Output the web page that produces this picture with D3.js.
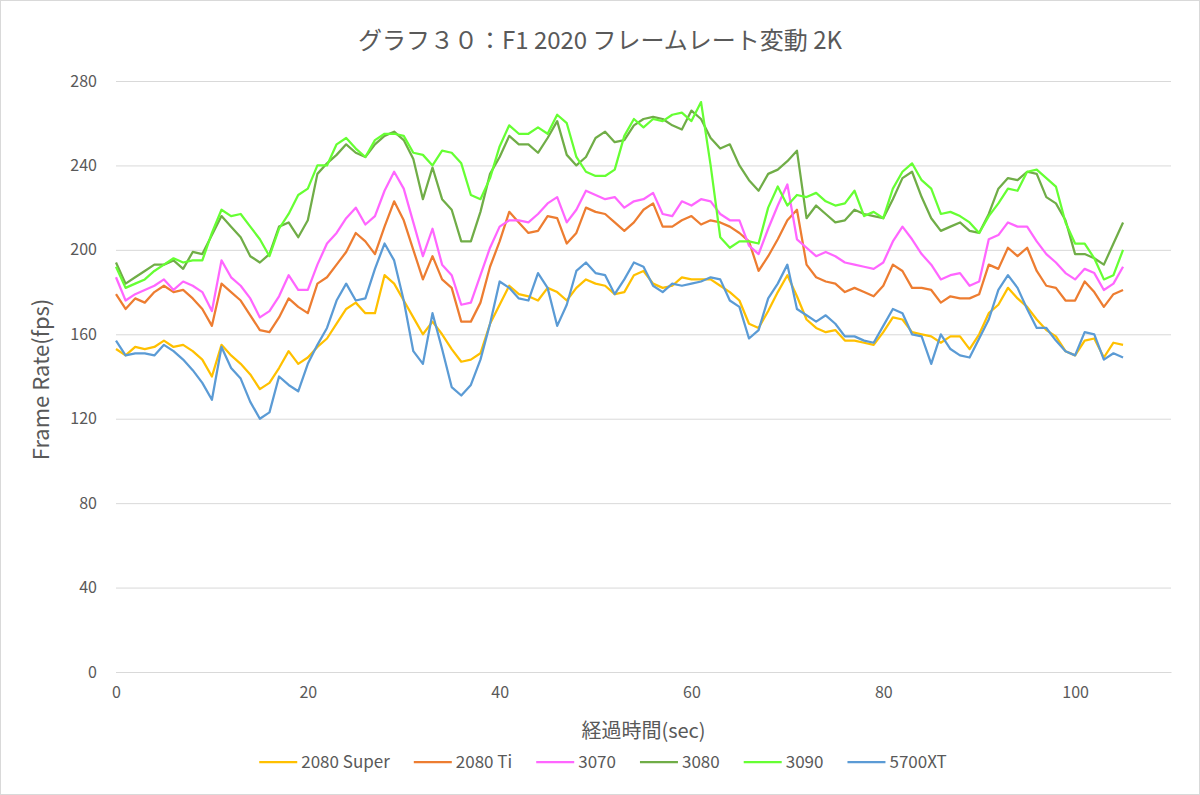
<!DOCTYPE html>
<html>
<head>
<meta charset="utf-8">
<script src="https://cdn.jsdelivr.net/npm/d3@7"></script>
<style>
  body { margin: 0; background: #fff; }
  svg { display: block; }
</style>
</head>
<body>
<svg id="chart"></svg>
<script>
// seconds 0..105, one sample per second
const secs = d3.range(0, 106);

const names = ["2080 Super", "2080 Ti", "3070", "3080", "3090", "5700XT"];
const colors = ["#ffc000", "#ed7d31", "#ff66ff", "#70ad47", "#66ff33", "#5b9bd5"];

const s2080super = [153,150,154,153,154,157,154,155,152,148,140,155,150,146,141,134,137,144,152,146,
  149,154,158,165,172,175,170,170,188,184,176,168,160,166,160,153,147,148,151,165,
  174,183,179,178,176,182,180,176,182,186,184,183,179,180,188,190,184,182,183,187,
  186,186,186,183,180,176,165,163,171,180,188,178,167,163,161,162,157,157,156,155,
  161,168,167,161,160,159,156,159,159,153,160,170,174,182,177,173,167,162,159,152,
  150,157,158,149,156,155];
const s2080ti = [179,172,177,175,180,183,180,181,177,172,164,184,180,176,169,162,161,168,177,173,
  170,184,187,193,199,208,204,198,211,223,214,200,186,197,186,182,166,166,175,192,
  204,218,213,208,209,216,215,203,208,220,218,217,213,209,213,219,222,211,211,214,
  216,212,214,213,211,208,204,190,197,205,214,219,193,187,185,184,180,182,180,178,
  183,193,190,182,182,181,175,178,177,177,179,193,191,201,197,201,190,183,182,176,
  176,185,180,173,179,181];
const s3070 = [187,176,179,181,183,186,181,185,183,180,171,195,187,183,177,168,171,178,188,181,
  181,193,203,208,215,220,212,216,228,237,229,213,197,210,193,188,174,175,188,201,
  211,214,214,213,217,222,225,213,219,228,226,224,225,220,223,224,227,217,216,223,
  221,224,223,217,214,214,202,198,210,221,231,205,201,197,199,197,194,193,192,191,
  194,204,211,205,198,193,186,188,189,183,185,205,207,213,211,211,204,198,194,189,
  186,191,189,181,184,192];
const s3080 = [194,184,187,190,193,193,195,191,199,198,207,216,211,206,197,194,198,211,213,206,
  214,236,241,245,250,246,244,250,254,256,252,243,224,239,224,219,204,204,218,236,
  244,254,250,250,246,253,261,245,240,244,253,256,251,252,259,262,263,262,259,257,
  266,262,253,248,250,240,233,228,236,238,242,247,215,221,217,213,214,219,217,216,
  215,224,234,237,225,215,209,211,213,209,208,217,229,234,233,237,236,225,222,214,
  198,198,196,193,203,213];
const s3090 = [192,182,184,186,190,193,196,194,195,195,208,219,216,217,211,205,197,210,217,226,
  229,240,240,250,253,248,244,252,255,255,254,246,245,240,247,246,241,226,224,234,
  249,259,255,255,258,255,264,260,244,237,235,235,238,254,262,258,262,261,264,265,
  261,270,240,206,201,204,204,203,220,230,221,226,225,227,223,221,222,228,216,218,
  215,229,237,241,233,229,217,218,216,213,208,216,222,229,228,237,238,234,230,213,
  203,203,196,186,188,200];
const s5700xt = [157,150,151,151,150,155,152,148,143,137,129,154,144,139,128,120,123,140,136,133,
  146,155,163,176,184,176,177,191,203,195,176,152,146,170,153,135,131,136,148,165,
  185,182,177,176,189,182,164,174,190,194,189,188,179,186,194,192,183,180,184,183,
  184,185,187,186,176,173,158,162,177,184,193,172,169,166,169,165,159,159,157,156,
  164,172,170,160,159,146,160,153,150,149,158,167,181,188,182,172,163,163,157,152,
  150,161,160,148,151,149];

const seriesValues = [s2080super, s2080ti, s3070, s3080, s3090, s5700xt];

const yTicks = [0, 40, 80, 120, 160, 200, 240, 280];
const xTicks = [0, 20, 40, 60, 80, 100];

const W = 1200, H = 795;
const font = "'Noto Sans CJK JP', 'Noto Sans', sans-serif";
const textColor = "#595959";

const svg = d3.select("#chart").attr("width", W).attr("height", H)
  .style("font-family", font);

svg.append("rect")
  .attr("x", 0.5).attr("y", 0.5)
  .attr("width", W - 1).attr("height", H - 1)
  .attr("fill", "#fff").attr("stroke", "#d9d9d9");

const x = d3.scaleLinear().domain([0, 110]).range([116, 1171]);
const y = d3.scaleLinear().domain([0, 280]).range([672, 81]);

// gridlines
svg.append("g")
  .attr("transform", `translate(${x(0)},0)`)
  .call(d3.axisLeft(y).tickValues(yTicks).tickSize(-(x(110) - x(0))).tickFormat(""))
  .call((g) => g.select(".domain").remove())
  .call((g) => g.selectAll("line").attr("stroke", "#d9d9d9").attr("stroke-width", 1));

// y tick labels
svg.append("g")
  .attr("transform", `translate(${x(0) - 11},0)`)
  .call(d3.axisLeft(y).tickValues(yTicks).tickSize(0).tickPadding(8))
  .call((g) => g.select(".domain").remove())
  .call((g) => g.selectAll("text")
    .attr("fill", textColor).style("font-size", "16px").style("font-family", font));

// x axis
svg.append("g")
  .attr("transform", `translate(0,${y(0)})`)
  .call(d3.axisBottom(x).tickValues(xTicks).tickSize(0).tickPadding(15))
  .call((g) => g.select(".domain").attr("stroke", "#d9d9d9"))
  .call((g) => g.selectAll("text")
    .attr("fill", textColor).style("font-size", "16px").style("font-family", font));

// lines
const line = d3.line()
  .x((d, i) => x(secs[i]))
  .y((d) => y(d));

seriesValues.forEach((vals, k) => {
  svg.append("path")
    .datum(vals)
    .attr("fill", "none")
    .attr("stroke", colors[k])
    .attr("stroke-width", 2.25)
    .attr("stroke-linejoin", "round")
    .attr("d", line);
});

// title
svg.append("text")
  .attr("x", 600).attr("y", 49)
  .attr("text-anchor", "middle")
  .attr("fill", textColor)
  .style("font-size", "24px")
  .text("グラフ３０：F1 2020 フレームレート変動 2K");

// axis titles
svg.append("text")
  .attr("x", (x(0) + x(110)) / 2).attr("y", 738)
  .attr("text-anchor", "middle")
  .attr("fill", textColor)
  .style("font-size", "20px")
  .text("経過時間(sec)");

svg.append("text")
  .attr("transform", `translate(49,${(y(0) + y(280)) / 2 + 3}) rotate(-90)`)
  .attr("text-anchor", "middle")
  .attr("fill", textColor)
  .style("font-size", "22px")
  .text("Frame Rate(fps)");

// legend
const legend = svg.append("g").attr("transform", "translate(0,762)");
const items = legend.selectAll("g").data(names).enter().append("g");
items.append("line")
  .attr("x1", 0).attr("x2", 38)
  .attr("stroke", (d, i) => colors[i])
  .attr("stroke-width", 2.25);
items.append("text")
  .attr("x", 42).attr("dy", "0.35em")
  .attr("fill", textColor)
  .style("font-size", "17px")
  .text((d) => d);

let offset = 0;
const widths = [];
items.each(function () {
  widths.push(42 + this.querySelector("text").getComputedTextLength());
});
const total = d3.sum(widths) + 24 * (widths.length - 1);
offset = 603 - total / 2;
items.attr("transform", (d, i) => {
  const tx = offset;
  offset += widths[i] + 24;
  return `translate(${tx},0)`;
});
</script>
</body>
</html>
